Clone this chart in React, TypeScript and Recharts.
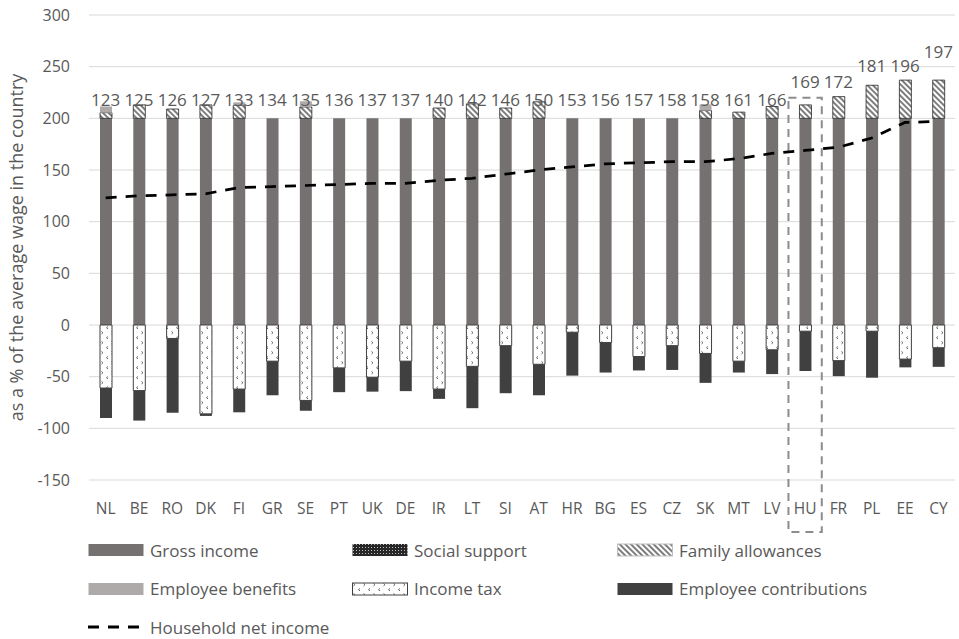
import React from 'react';
import {
  ComposedChart,
  Bar,
  Line,
  XAxis,
  YAxis,
  CartesianGrid,
  ReferenceArea,
  LabelList,
} from 'recharts';

const countries = ['NL', 'BE', 'RO', 'DK', 'FI', 'GR', 'SE', 'PT', 'UK', 'DE', 'IR', 'LT', 'SI', 'AT', 'HR', 'BG', 'ES', 'CZ', 'SK', 'MT', 'LV', 'HU', 'FR', 'PL', 'EE', 'CY'];
const grossIncome = [200, 200, 200, 200, 200, 200, 200, 200, 200, 200, 200, 200, 200, 200, 200, 200, 200, 200, 200, 200, 200, 200, 200, 200, 200, 200];
const socialSupport = [0, 0, 0, 0, 0, 0, 0, 0, 0, 0, 0, 0, 0, 0, 0, 0, 0, 0, 0, 0, 0, 0, 0, 0, 0, 0];
const familyAllowances = [5.5, 13, 9, 13, 12.5, 0, 11, 0, 0, 0, 10, 14, 10, 16, 0, 0, 0, 0, 7.5, 6, 11.5, 13, 21, 32, 37, 37];
const employeeBenefits = [6, 0, 0, 0, 3, 0, 5.5, 0, 0, 0, 0, 0, 0, 0, 0, 0, 0, 0, 6, 0, 0, 0, 0, 0, 0, 0];
const incomeTax = [-61, -63.5, -13, -86, -62, -35, -73, -41.5, -50.5, -35, -62, -40, -20, -38, -7, -17, -30.5, -20, -27.5, -35, -24, -6, -34.5, -6, -33, -22];
const employeeContributions = [-29, -29, -72, -2, -22.5, -33, -10, -23.5, -14, -29, -9.5, -40.5, -46, -30, -42, -29, -13.5, -23.5, -28.5, -11, -23.5, -38.5, -15, -45, -8, -18.5];
const householdNetIncome = [123, 125, 126, 127, 133, 134, 135, 136, 137, 137, 140, 142, 146, 150, 153, 156, 157, 158, 158, 161, 166, 169, 172, 181, 196, 197];
// height (in chart units) where each net income label sits
const netLabelLevel = [218, 218, 218, 218, 218, 218, 218, 218, 218, 218, 218, 218, 218, 218, 218, 218, 218, 218, 218, 218, 218, 235, 235, 251, 251, 264];
const yTicks = [-150, -100, -50, 0, 50, 100, 150, 200, 250, 300];
const highlighted = 'HU';

const chartData = countries.map((country, i) => ({
  country,
  gross: grossIncome[i],
  social: socialSupport[i],
  family: familyAllowances[i],
  benefits: employeeBenefits[i],
  tax: incomeTax[i],
  contributions: employeeContributions[i],
  net: householdNetIncome[i],
  labelAt: netLabelLevel[i],
}));

const FONT = "'Open Sans', sans-serif";
const TEXT = '#595959';

const NetLabel = (props: any) => {
  const { x, y, value } = props;
  return (
    <text x={x} y={y} dy="0.35em" textAnchor="middle" fill={TEXT} fontSize={17}>
      {value}
    </text>
  );
};

const AxisTitle = (props: any) => {
  const { viewBox } = props;
  const cx = viewBox.x + 16;
  const cy = viewBox.y + viewBox.height / 2;
  return (
    <text
      x={cx}
      y={cy}
      transform={`rotate(-90 ${cx} ${cy})`}
      textAnchor="middle"
      dominantBaseline="central"
      fill={TEXT}
      fontSize={18}
    >
      as a % of the average wage in the country
    </text>
  );
};

// dashed frame round the highlighted country, reaching down over its tick label
const HighlightBox = (props: any) => {
  const { x, y, width, height } = props;
  return (
    <rect
      x={x}
      y={y}
      width={width}
      height={height + 52}
      fill="none"
      stroke="#8c8c8c"
      strokeWidth={2}
      strokeDasharray="8 6"
    />
  );
};

const Patterns = () => (
  <svg width={0} height={0} style={{ position: 'absolute' }}>
    <defs>
      <pattern id="hatch" patternUnits="userSpaceOnUse" width={4} height={4} patternTransform="rotate(-45)">
        <rect width={4} height={4} fill="#fff" />
        <line x1={1} y1={0} x2={1} y2={4} stroke="#262626" strokeWidth={1.2} />
      </pattern>
      <pattern id="taxDots" patternUnits="userSpaceOnUse" width={10} height={10}>
        <rect width={10} height={10} fill="#fff" />
        <path d="M1.5 1.5 l1.5 1.2 l-1.5 1.2" stroke="#595959" strokeWidth={0.9} fill="none" />
        <path d="M8 6.5 l-1.5 1.2 l1.5 1.2" stroke="#595959" strokeWidth={0.9} fill="none" />
      </pattern>
      <pattern id="socialDots" patternUnits="userSpaceOnUse" width={3} height={3}>
        <rect width={3} height={3} fill="#262626" />
        <rect x={1} y={1} width={1} height={1} fill="#bfbfbf" />
      </pattern>
    </defs>
  </svg>
);

const legendItems = [
  { name: 'Gross income', fill: '#767171', stroke: 'none' },
  { name: 'Social support', fill: 'url(#socialDots)', stroke: 'none' },
  { name: 'Family allowances', fill: 'url(#hatch)', stroke: '#bfbfbf' },
  { name: 'Employee benefits', fill: '#aeaaaa', stroke: 'none' },
  { name: 'Income tax', fill: 'url(#taxDots)', stroke: '#404040' },
  { name: 'Employee contributions', fill: '#404040', stroke: 'none' },
  { name: 'Household net income', fill: 'line', stroke: '#000' },
];

const LegendBlock = () => (
  <div
    style={{
      position: 'absolute',
      left: 88,
      top: 531,
      display: 'grid',
      gridTemplateColumns: '264px 265px 300px',
      gridAutoRows: '38.5px',
      alignItems: 'center',
      fontSize: 17,
      color: TEXT,
    }}
  >
    {legendItems.map((item) => (
      <div key={item.name} style={{ display: 'flex', alignItems: 'center', gap: 6 }}>
        <svg width={56} height={14}>
          {item.fill === 'line' ? (
            <line x1={0} y1={7} x2={56} y2={7} stroke="#000" strokeWidth={3} strokeDasharray="11 9" />
          ) : (
            <rect x={0.5} y={1} width={55} height={12} fill={item.fill} stroke={item.stroke} strokeWidth={1} />
          )}
        </svg>
        <span>{item.name}</span>
      </div>
    ))}
  </div>
);

export default function App() {
  return (
    <div style={{ position: 'relative', width: 959, height: 639, fontFamily: FONT, background: '#fff' }}>
      <style>{'body{margin:0}'}</style>
      <Patterns />
      <ComposedChart
        width={959}
        height={639}
        data={chartData}
        stackOffset="sign"
        margin={{ top: 15, right: 4, bottom: 129, left: 0 }}
      >
        <CartesianGrid vertical={false} stroke="#d9d9d9" strokeWidth={1} />
        <XAxis
          dataKey="country"
          interval={0}
          axisLine={false}
          tickLine={false}
          tickMargin={17}
          tick={{ fill: TEXT, fontSize: 15.5 }}
        />
        <YAxis
          width={89}
          domain={[-150, 300]}
          ticks={yTicks}
          axisLine={false}
          tickLine={false}
          tickMargin={13}
          tick={{ fill: TEXT, fontSize: 16 }}
          label={<AxisTitle />}
        />
        <Bar dataKey="gross" stackId="s" fill="#767171" barSize={12} isAnimationActive={false} />
        <Bar dataKey="social" stackId="s" fill="url(#socialDots)" barSize={12} isAnimationActive={false} />
        <Bar dataKey="family" stackId="s" fill="url(#hatch)" stroke="#262626" strokeWidth={0.8} barSize={12} isAnimationActive={false} />
        <Bar dataKey="benefits" stackId="s" fill="#aeaaaa" barSize={12} isAnimationActive={false} />
        <Bar dataKey="tax" stackId="s" fill="url(#taxDots)" stroke="#404040" strokeWidth={1} barSize={12} isAnimationActive={false} />
        <Bar dataKey="contributions" stackId="s" fill="#404040" barSize={12} isAnimationActive={false} />
        <Line
          dataKey="net"
          stroke="#000"
          strokeWidth={2.75}
          strokeDasharray="11 9"
          dot={false}
          activeDot={false}
          isAnimationActive={false}
        />
        <Line dataKey="labelAt" stroke="none" dot={false} activeDot={false} isAnimationActive={false}>
          <LabelList dataKey="net" content={<NetLabel />} />
        </Line>
        <ReferenceArea
          x1={highlighted}
          x2={highlighted}
          y1={-150}
          y2={220}
          ifOverflow="visible"
          shape={<HighlightBox />}
        />
      </ComposedChart>
      <LegendBlock />
    </div>
  );
}
